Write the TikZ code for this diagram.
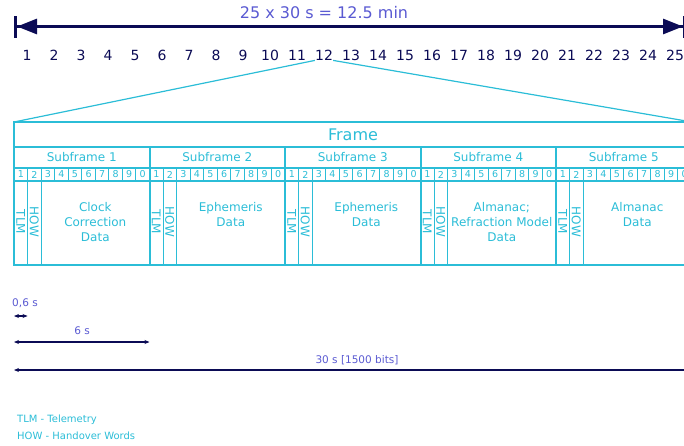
\documentclass[tikz,border=0pt]{standalone}
\usepackage{fontspec}
\setmainfont{DejaVu Sans}
\usetikzlibrary{arrows.meta, positioning}
\definecolor{cnavy}{HTML}{0B0B55}
\definecolor{cslate}{HTML}{5A5AD2}
\definecolor{ccyan}{HTML}{2BBDD7}
\tikzset{
  span/.style={{Bar[width=22pt]Triangle[length=20pt, width=15pt]}-{Triangle[length=20pt, width=15pt]Bar[width=22pt]}, draw=cnavy, line width=3pt},
  dim/.style={{Stealth[length=5pt, width=4pt]}-{Stealth[length=5pt, width=4pt]}, draw=cnavy, line width=1.2pt},
  grid/.style={draw=ccyan, line width=#1},
  grid/.default=1pt,
  title/.style={text=cslate, font=\fontsize{16}{19}\selectfont, inner sep=0pt},
  dimtxt/.style={text=cslate, font=\fontsize{10.5}{12}\selectfont, inner sep=0pt},
  key/.style={text=ccyan, font=\fontsize{10}{12}\selectfont, anchor=west, inner sep=0pt},
}

\begin{document}
\begin{tikzpicture}[x=1pt, y=-1pt,
    num/.style={text=cnavy, font=\fontsize{14}{16}\selectfont, inner sep=0pt},
    hd/.style={text=ccyan, font=\fontsize{16}{19}\selectfont, inner sep=0pt},
    sub/.style={text=ccyan, font=\fontsize{12}{14}\selectfont, inner sep=0pt},
    bit/.style={text=ccyan, font=\fontsize{9.5}{11}\selectfont, inner sep=0pt},
    word/.style={text=ccyan, font=\fontsize{12}{14}\selectfont, rotate=-90, inner sep=0pt},
    dat/.style={text=ccyan, font=\fontsize{12}{15}\selectfont, align=center, anchor=north, inner sep=1pt}]
  \useasboundingbox (0,0) rectangle (684,445);
  \clip (0,0) rectangle (684,445);
  % ---- top: 25 frames make the whole message ----
  \coordinate (msg-start) at (14,26.5);
  \coordinate (msg-end) at (686,26.5);
  \draw[span] (msg-start) -- (msg-end);
  \node[title] (total) at (324,13) {25 x 30 s = 12.5 min};
  \foreach \i in {1,...,25}
    \node[num] (n\i) at ({27+(\i-1)*27.0},55) {\i};
  % ---- one frame, five subframes of ten words ----
  \coordinate (frame-nw) at (14,122);
  \coordinate (frame-ne) at (692,122);
  \draw[grid=1.2pt] (n12.south west) -- (frame-nw);
  \draw[grid=1.2pt] (n12.south east) -- (frame-ne);
  \draw[grid=2pt] (frame-nw) rectangle (692,265);
  \node[hd] (frame) at (353,134.5) {Frame};
  \draw[grid=1.5pt] (14,147) -- (692,147) (14,168) -- (692,168) (14,181) -- (692,181);
  \foreach \dat [count=\k] in {{Clock\\Correction\\Data}, {Ephemeris\\Data}, {Ephemeris\\Data},
      {Almanac;\\Refraction Model\\Data}, {Almanac\\Data}} {
    \pgfmathsetmacro\xo{14+(\k-1)*135.5}
    \draw[grid=2pt] (\xo,147) -- (\xo,265);
    \node[sub] (sf\k) at (\xo+67.75,157.5) {Subframe \k};
    \foreach \w in {1,...,9}
      \draw[grid] (\xo+\w*13.55,168) -- (\xo+\w*13.55,181);
    \foreach \w [count=\j from 0] in {1,2,3,4,5,6,7,8,9,0}
      \node[bit] at (\xo+6.775+\j*13.55,174.5) {\w};
    \draw[grid] (\xo+13.55,181) -- (\xo+13.55,265) (\xo+27.1,181) -- (\xo+27.1,265);
    \node[word] (tlm\k) at (\xo+6.775,222) {TLM};
    \node[word] (how\k) at (\xo+20.3,222) {HOW};
    \node[dat] (dat\k) at (\xo+81.3,201.5) {\dat};
  }
  % ---- durations ----
  \coordinate (w-start) at (14,316);
  \coordinate (w-end) at (27.55,316);
  \draw[dim] (w-start) -- (w-end);
  \node[dimtxt] (w-len) at (25,303) {0,6 s};
  \coordinate (sf-start) at (14,342);
  \coordinate (sf-end) at (149.5,342);
  \draw[dim] (sf-start) -- (sf-end);
  \node[dimtxt] (sf-len) at (82,331) {6 s};
  \coordinate (fr-start) at (14,370);
  \coordinate (fr-end) at (692,370);
  \draw[dim] (fr-start) -- (fr-end);
  \node[dimtxt] (fr-len) at (357,360) {30 s [1500 bits]};
  % ---- legend ----
  \node[key] (key-tlm) at (17,420) {TLM - Telemetry};
  \node[key] (key-how) at (17,436) {HOW - Handover Words};
\end{tikzpicture}
\end{document}
